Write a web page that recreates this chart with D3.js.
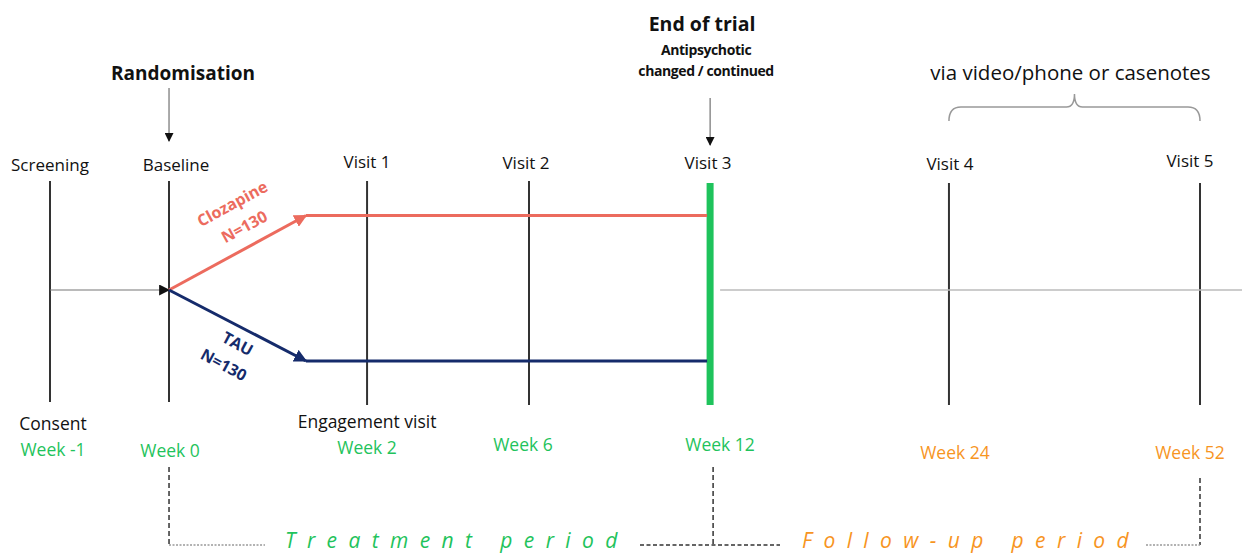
<!DOCTYPE html>
<html lang="en">
  <head>
    <meta charset="utf-8">
    <script src="https://d3js.org/d3.v7.min.js"></script>
    <style type="text/css">
body {
  margin: 0;
  background: white;
  font-family: "Open Sans", Calibri, sans-serif;
}
    </style>
  </head>
  <body>
    <div id="chart"></div>
    <script type="text/javascript">
const width = 1242;
const height = 554;

// timeline slots (layout units along the trial axis)
const visits = ["Screening", "Baseline", "Visit 1", "Visit 2", "Visit 3", "Visit 4", "Visit 5"];
const slots = [0, 1.035, 2.757, 4.165, 5.74, 7.817, 10];
const weeks = ["Week -1", "Week 0", "Week 2", "Week 6", "Week 12", "Week 24", "Week 52"];
const weekPhase = ["treat", "treat", "treat", "treat", "treat", "follow", "follow"];
const subLabels = ["Consent", "", "Engagement visit", "", "", "", ""];
const arms = ["Clozapine", "TAU"];
const armN = [130, 130];
const armColor = ["#ec6b5e", "#152b6b"];

const green = "#1fc35c";
const orange = "#f7951f";

const x = d3.scaleLinear().domain([0, 10]).range([50, 1200]);
const yArm = d3.scalePoint().domain(arms).range([215.5, 361]);
const yMid = 290;

let svg = d3.select("#chart").append("svg")
  .attr("width", width)
  .attr("height", height);

let defs = svg.append("defs");
function marker(id, color, size) {
  defs.append("marker")
    .attr("id", id)
    .attr("viewBox", "0 0 10 10")
    .attr("refX", 9).attr("refY", 5)
    .attr("markerWidth", size).attr("markerHeight", size)
    .attr("markerUnits", "userSpaceOnUse")
    .attr("orient", "auto")
    .append("path")
      .attr("d", "M0,0L10,5L0,10z")
      .attr("fill", color);
}
marker("arBlack", "#111", 11);
marker("arThin", "#111", 9);
marker("arm0", armColor[0], 13);
marker("arm1", armColor[1], 13);

// visit lines
svg.append("g")
  .selectAll("line")
  .data(visits)
  .join("line")
    .attr("x1", (d, i) => x(slots[i]))
    .attr("x2", (d, i) => x(slots[i]))
    .attr("y1", (d, i) => i < 4 ? 181 : 183)
    .attr("y2", (d, i) => i < 2 ? 402 : 405)
    .attr("stroke", (d, i) => i == 4 ? green : "#333")
    .attr("stroke-width", (d, i) => i == 4 ? 7 : 2);

// visit labels
const labelDy = [165, 165, 162, 163, 163, 164, 161];
const labelDx = [0, 7, 0, -3, -2, 1, -10];
svg.append("g")
  .selectAll("text")
  .data(visits)
  .join("text")
    .attr("x", (d, i) => x(slots[i]) + labelDx[i])
    .attr("y", (d, i) => labelDy[i] + 6)
    .attr("text-anchor", "middle")
    .attr("font-size", 17)
    .attr("fill", "#111")
    .text(d => d);

// screening -> baseline line
svg.append("line")
  .attr("x1", x(slots[0])).attr("x2", x(slots[1]))
  .attr("y1", yMid).attr("y2", yMid)
  .attr("stroke", "#777").attr("stroke-width", 1.2)
  .attr("marker-end", "url(#arBlack)");

// follow-up line
svg.append("line")
  .attr("x1", x(slots[4]) + 10).attr("x2", width)
  .attr("y1", yMid).attr("y2", yMid)
  .attr("stroke", "#bbb").attr("stroke-width", 1.5);

// arms
const armStartX = 306;
arms.forEach((a, i) => {
  svg.append("line")
    .attr("x1", x(slots[1])).attr("y1", yMid)
    .attr("x2", armStartX).attr("y2", yArm(a))
    .attr("stroke", armColor[i]).attr("stroke-width", 3)
    .attr("marker-end", `url(#arm${i})`);
  svg.append("line")
    .attr("x1", armStartX).attr("y1", yArm(a))
    .attr("x2", x(slots[4]) - 3).attr("y2", yArm(a))
    .attr("stroke", armColor[i]).attr("stroke-width", 3);
});

// arm labels
const angle = Math.atan2(yMid - yArm(arms[0]), armStartX - x(slots[1])) * 180 / Math.PI;
const armText = [
  [[arms[0], 233, 205], ["N=" + armN[0], 245, 228]],
  [[arms[1], 237, 345], ["N=" + armN[1], 223, 366]]
];
armText.forEach((rows, i) => {
  rows.forEach(([t, tx, ty]) => {
    svg.append("text")
      .attr("transform", `translate(${tx},${ty}) rotate(${i == 0 ? -angle : angle})`)
      .attr("text-anchor", "middle")
      .attr("dominant-baseline", "middle")
      .attr("font-size", 16)
      .attr("font-weight", "bold")
      .attr("fill", armColor[i])
      .text(t);
  });
});

// randomisation
svg.append("text")
  .attr("x", x(slots[1]) + 14).attr("y", 80)
  .attr("text-anchor", "middle")
  .attr("font-size", 19).attr("font-weight", "bold")
  .attr("fill", "#111")
  .text("Randomisation");
svg.append("line")
  .attr("x1", x(slots[1])).attr("x2", x(slots[1]))
  .attr("y1", 88).attr("y2", 141)
  .attr("stroke", "#555").attr("stroke-width", 1)
  .attr("marker-end", "url(#arThin)");

// end of trial
svg.append("text")
  .attr("x", x(slots[4]) - 8).attr("y", 31)
  .attr("text-anchor", "middle")
  .attr("font-size", 19.5).attr("font-weight", "bold")
  .attr("fill", "#111")
  .text("End of trial");
["Antipsychotic", "changed / continued"].forEach((t, i) => {
  svg.append("text")
    .attr("x", x(slots[4]) - 4).attr("y", 55 + i * 21)
    .attr("text-anchor", "middle")
    .attr("font-size", 14).attr("font-weight", "bold")
    .attr("letter-spacing", -0.4)
    .attr("fill", "#111")
    .text(t);
});
svg.append("line")
  .attr("x1", x(slots[4])).attr("x2", x(slots[4]))
  .attr("y1", 98).attr("y2", 145)
  .attr("stroke", "#555").attr("stroke-width", 1)
  .attr("marker-end", "url(#arThin)");

// follow-up brace
const bx0 = x(slots[5]), bx1 = x(slots[6]), bm = (bx0 + bx1) / 2;
svg.append("path")
  .attr("d", `M${bx0},121 Q${bx0},107 ${bx0 + 12},107 L${bm - 8},107 Q${bm},107 ${bm},94 Q${bm},107 ${bm + 8},107 L${bx1 - 12},107 Q${bx1},107 ${bx1},121`)
  .attr("fill", "none")
  .attr("stroke", "#999").attr("stroke-width", 1.5);
svg.append("text")
  .attr("x", bm - 4).attr("y", 80)
  .attr("text-anchor", "middle")
  .attr("font-size", 20.5)
  .attr("fill", "#111")
  .text("via video/phone or casenotes");

// sub labels
svg.append("g")
  .selectAll("text")
  .data(subLabels)
  .join("text")
    .attr("x", (d, i) => x(slots[i]) + (i == 0 ? 3 : 0))
    .attr("y", (d, i) => i == 0 ? 430 : 428)
    .attr("text-anchor", "middle")
    .attr("font-size", 17.5)
    .attr("fill", "#111")
    .text(d => d);

// week labels
const weekY = [456, 457, 454, 451, 451, 459, 459];
const weekDx = [3, 1, 0, -6, 10, 6, -10];
svg.append("g")
  .selectAll("text")
  .data(weeks)
  .join("text")
    .attr("x", (d, i) => x(slots[i]) + weekDx[i])
    .attr("y", (d, i) => weekY[i])
    .attr("text-anchor", "middle")
    .attr("font-size", 17.5)
    .attr("fill", (d, i) => weekPhase[i] == "treat" ? green : orange)
    .text(d => d);

// period brackets
const py = 545;
function vdash(xx, y0) {
  svg.append("line")
    .attr("x1", xx).attr("x2", xx).attr("y1", y0).attr("y2", py)
    .attr("stroke", "#333").attr("stroke-width", 1.5)
    .attr("stroke-dasharray", "5,3");
}
function hline(x0, x1, dash, color) {
  svg.append("line")
    .attr("x1", x0).attr("x2", x1).attr("y1", py).attr("y2", py)
    .attr("stroke", color).attr("stroke-width", 1.3)
    .attr("stroke-dasharray", dash);
}
vdash(x(slots[1]), 467);
vdash(x(slots[4]) + 3, 467);
vdash(x(slots[6]), 478);
hline(x(slots[1]), 265, "2,1.5", "#999");
hline(640, 780, "4,2.5", "#333");
hline(1146, x(slots[6]), "2,1.5", "#999");

svg.append("text")
  .attr("x", 285).attr("y", 548)
  .attr("font-size", 21).attr("font-style", "italic")
  .attr("letter-spacing", 11.4)
  .attr("fill", green)
  .text("Treatment period");
svg.append("text")
  .attr("x", 802).attr("y", 548)
  .attr("font-size", 21).attr("font-style", "italic")
  .attr("letter-spacing", 11.4)
  .attr("fill", orange)
  .text("Follow-up period");
    </script>
  </body>
</html>
